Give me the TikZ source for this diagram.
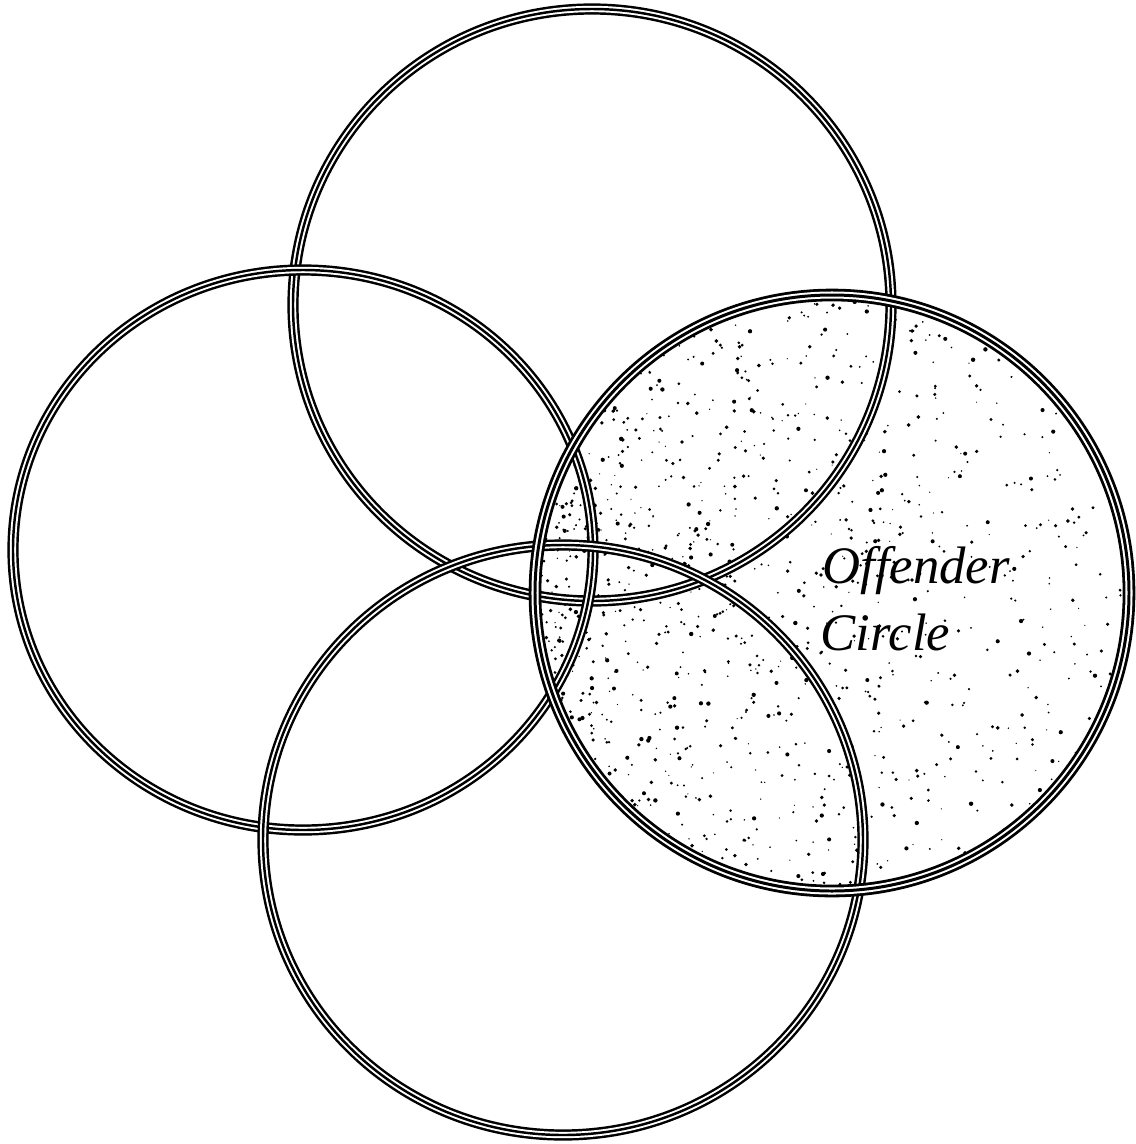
\documentclass[tikz,border=0pt]{standalone}
\usepackage{fontspec}
\newfontfamily\labelfont{Liberation Serif}
\begin{document}
\begin{tikzpicture}[x=0.02cm,y=-0.02cm,
  ringout/.style={draw=black,line width=6.4pt},
  ringmid/.style={draw=white,line width=3.6pt},
  ringin/.style={draw=black,line width=1.4pt},
  offout/.style={draw=black,line width=7.2pt},
  offmid/.style={draw=white,line width=4.0pt},
  offin/.style={draw=black,line width=1.7pt},
  speck/.style={fill=black},
  lbl/.style={anchor=base west,font=\labelfont\fontsize{30}{34}\selectfont\itshape,inner sep=0pt}]
\useasboundingbox[fill=white] (0,0) rectangle (1136,1144);
% speckled fill of offender circle
\begin{scope}
\clip (832,593) ellipse [x radius=297,y radius=298];
\pgfmathsetseed{7}
\foreach \i in {1,...,1500}{
  \pgfmathsetmacro{\u}{rnd}
  \pgfmathsetmacro{\px}{535+600*(\u^1.7)}
  \pgfmathsetmacro{\py}{295+600*rnd}
  \pgfmathsetmacro{\r}{0.6+1.6*rnd}
  \fill[speck] (\px,\py) circle [radius=\r];
}
\end{scope}
\newcommand{\myring}[4]{%
  \draw[ringout] (#1,#2) ellipse [x radius=#3,y radius=#4];
  \draw[ringmid] (#1,#2) ellipse [x radius=#3,y radius=#4];
  \draw[ringin] (#1,#2) ellipse [x radius=#3,y radius=#4];}
\coordinate (ctop) at (592,305);
\coordinate (cleft) at (303,550);
\coordinate (cbot) at (563,840);
\coordinate (coff) at (832,593);
\myring{592}{305}{299}{296}
\myring{303}{550}{290}{280}
\myring{563}{840}{300}{295}
\draw[offout] (coff) ellipse [x radius=297,y radius=298];
\draw[offmid] (coff) ellipse [x radius=297,y radius=298];
\draw[offin] (coff) ellipse [x radius=297,y radius=298];
\node[lbl] (off) at (822,583) {Offender};
\node[lbl] (circ) at (820,650) {Circle};
\end{tikzpicture}
\end{document}
